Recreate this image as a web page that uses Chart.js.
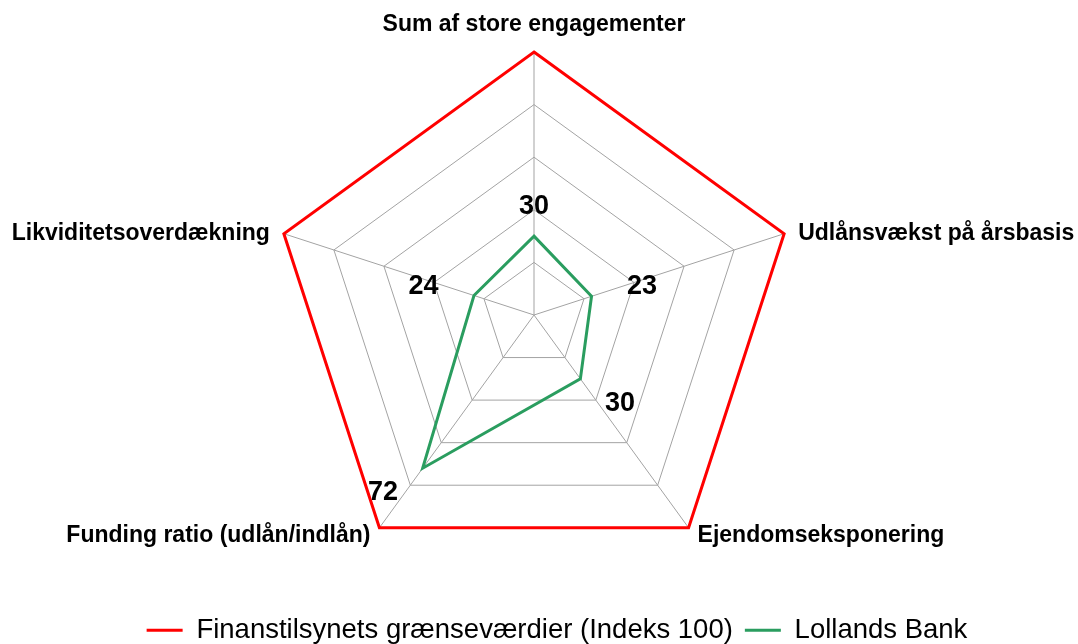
<!DOCTYPE html>
<html>
<head>
<meta charset="utf-8">
<script src="https://cdn.jsdelivr.net/npm/chart.js@4/dist/chart.umd.min.js"></script>
<style>
  html, body { margin: 0; padding: 0; background: #fff; }
  #wrap { width: 1078px; height: 644px; }
</style>
</head>
<body>
<div id="wrap"><canvas id="radarChart"></canvas></div>
<script>
const categories = [
    'Sum af store engagementer',
    'Udlånsvækst på årsbasis',
    'Ejendomseksponering',
    'Funding ratio (udlån/indlån)',
    'Likviditetsoverdækning'
];
const graenseVaerdier = [100, 100, 100, 100, 100];
const lollandsBank = [30, 23, 30, 72, 24];
const tickValues = [0, 20, 40, 60, 80, 100];

// placering af selve radar-figuren
const CENTER_X = 534;
const CENTER_Y = 315;
const RADIUS = 263;
const FONT = '"Liberation Sans", Arial, sans-serif';

// akse-navne tegnes selv, så de sidder som i originalen
const axisLabels = {
    id: 'axisLabels',
    afterDraw(chart) {
        const scale = chart.scales.r;
        const ctx = chart.ctx;
        ctx.save();
        ctx.font = 'bold 23px ' + FONT;
        ctx.fillStyle = '#000';
        categories.forEach((txt, i) => {
            const s = Math.sin(scale.getIndexAngle(i));
            const c = Math.cos(scale.getIndexAngle(i));
            if (Math.abs(s) < 0.1) {
                const p = scale.getPointPosition(i, scale.drawingArea + 16);
                ctx.textAlign = 'center';
                ctx.textBaseline = 'bottom';
                ctx.fillText(txt, p.x, p.y);
            } else {
                const p = scale.getPointPosition(i, scale.drawingArea);
                ctx.textAlign = s > 0 ? 'left' : 'right';
                ctx.textBaseline = 'middle';
                const dx = c > 0 ? 14 : 9;
                const dy = c > 0 ? 0 : 8;
                ctx.fillText(txt, p.x + Math.sign(s) * dx, p.y + dy);
            }
        });
        ctx.restore();
    }
};

// tal ved Lollands Bank punkterne
const valueLabels = {
    id: 'valueLabels',
    afterDatasetsDraw(chart) {
        const scale = chart.scales.r;
        const ctx = chart.ctx;
        ctx.save();
        ctx.font = 'bold 27px ' + FONT;
        ctx.fillStyle = '#000';
        ctx.textAlign = 'center';
        ctx.textBaseline = 'middle';
        lollandsBank.forEach((v, i) => {
            const s = Math.sin(scale.getIndexAngle(i));
            const side = Math.abs(s) < 0.1 ? 0 : Math.sign(s);
            const p = scale.getPointPosition(i, scale.getDistanceFromCenterForValue(v) + 30);
            ctx.fillText(String(v), p.x + side * 22, p.y);
        });
        ctx.restore();
    }
};

new Chart(document.getElementById('radarChart'), {
    type: 'radar',
    data: {
        labels: categories,
        datasets: [
            {
                label: 'Finanstilsynets grænseværdier (Indeks 100)',
                data: graenseVaerdier,
                borderColor: '#ff0000',
                backgroundColor: 'transparent',
                borderWidth: 3,
                pointRadius: 0,
                fill: false
            },
            {
                label: 'Lollands Bank',
                data: lollandsBank,
                borderColor: '#2a9d5f',
                backgroundColor: 'transparent',
                borderWidth: 3,
                pointRadius: 0,
                fill: false
            }
        ]
    },
    options: {
        responsive: true,
        maintainAspectRatio: false,
        animation: false,
        layout: { padding: { top: 0, bottom: -10, left: 36, right: 0 } },
        plugins: {
            legend: {
                position: 'bottom',
                labels: {
                    usePointStyle: true,
                    pointStyle: 'line',
                    pointStyleWidth: 36,
                    color: '#000',
                    padding: 12,
                    font: { family: FONT, size: 27.5 }
                }
            },
            tooltip: { enabled: false }
        },
        scales: {
            r: {
                min: 0,
                max: 100,
                afterBuildTicks: (scale) => { scale.ticks = tickValues.map(v => ({ value: v })); },
                afterFit: (scale) => {
                    scale.xCenter = CENTER_X;
                    scale.yCenter = CENTER_Y;
                    scale.drawingArea = RADIUS;
                },
                ticks: { display: false },
                grid: { color: '#a3a3a3', lineWidth: 1 },
                angleLines: { color: '#a3a3a3', lineWidth: 1 },
                pointLabels: { display: false }
            }
        }
    },
    plugins: [axisLabels, valueLabels]
});
</script>
</body>
</html>
